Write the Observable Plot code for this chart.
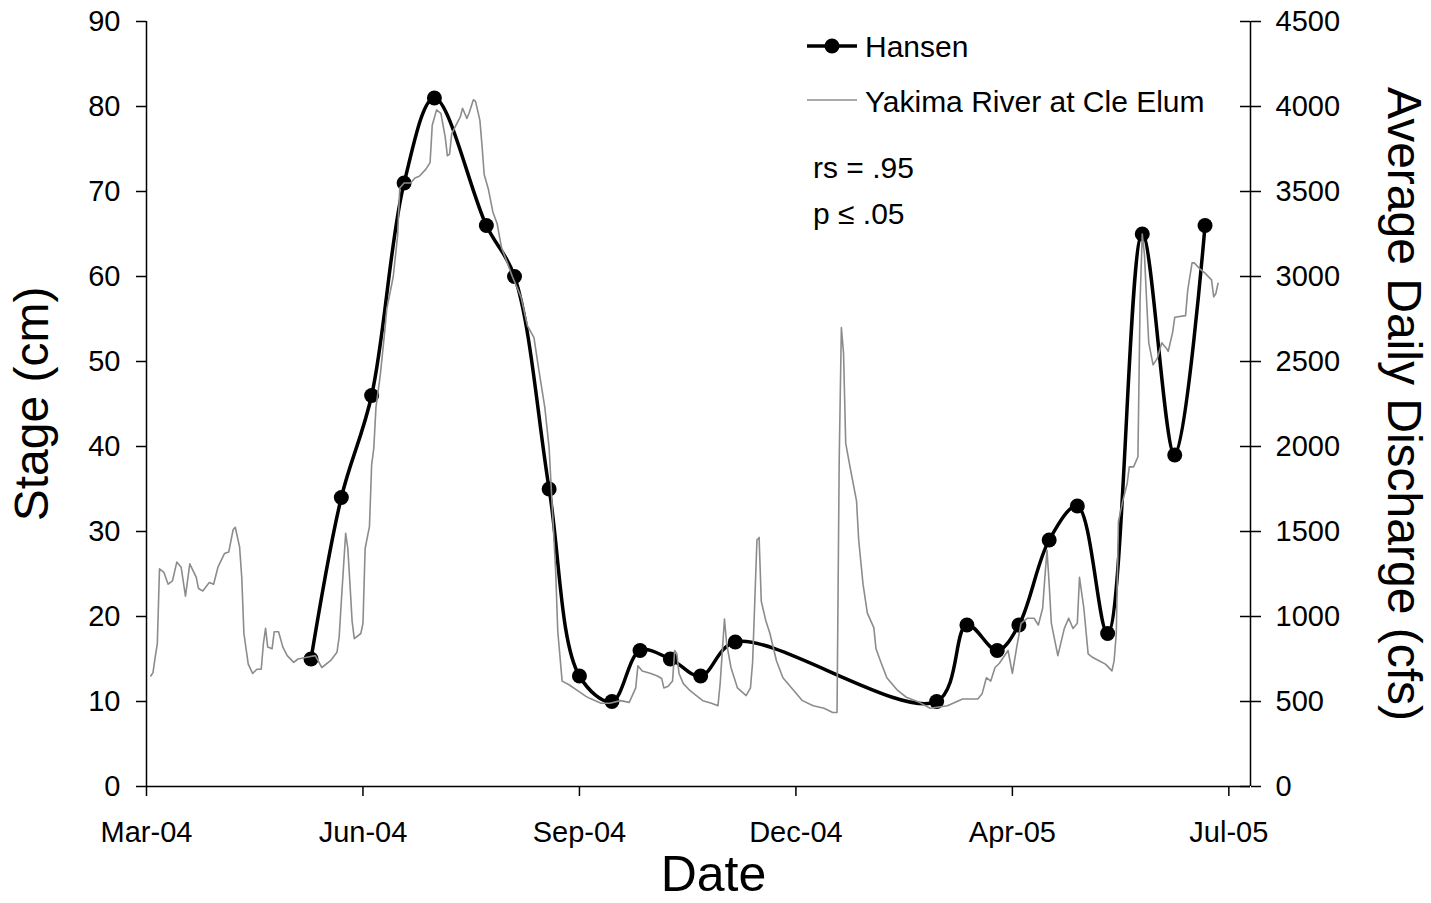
<!DOCTYPE html>
<html><head><meta charset="utf-8">
<script src="https://cdn.jsdelivr.net/npm/d3@7"></script>
<script src="https://cdn.jsdelivr.net/npm/@observablehq/plot@0.6"></script>
<style>
html,body{margin:0;padding:0;background:#fff;}
#chart{position:relative;width:1431px;height:903px;}
</style></head><body><div id="chart"></div>
<script>
// ---- Hansen stage (cm), left axis ----
const hansenDates = ["2004-05-16","2004-05-30","2004-06-13","2004-06-28","2004-07-12","2004-08-05","2004-08-18","2004-09-03","2004-09-17","2004-10-02","2004-10-15","2004-10-29","2004-11-12","2004-11-28","2005-03-01","2005-03-15","2005-03-29","2005-04-08","2005-04-22","2005-05-05","2005-05-19","2005-06-04","2005-06-19","2005-07-03"];
const hansenStage = [15,34,46,71,81,66,60,35,13,10,16,15,13,17,10,19,16,19,29,33,18,65,39,66];

// ---- Yakima River at Cle Elum, average daily discharge (cfs), right axis ----
const dischargeDates = [
"2004-03-03","2004-03-04","2004-03-05","2004-03-06","2004-03-07","2004-03-09","2004-03-11","2004-03-13","2004-03-15","2004-03-17","2004-03-19","2004-03-21","2004-03-24","2004-03-25","2004-03-27","2004-03-30",
"2004-04-01","2004-04-03","2004-04-06","2004-04-08","2004-04-10","2004-04-11","2004-04-13","2004-04-14","2004-04-15","2004-04-17","2004-04-19","2004-04-21","2004-04-23","2004-04-24","2004-04-25","2004-04-26","2004-04-28","2004-04-29",
"2004-05-01","2004-05-03","2004-05-05","2004-05-08","2004-05-10","2004-05-14","2004-05-18","2004-05-21","2004-05-25","2004-05-28","2004-05-29","2004-05-30",
"2004-06-01","2004-06-02","2004-06-03","2004-06-04","2004-06-05","2004-06-08","2004-06-09","2004-06-10","2004-06-12","2004-06-13","2004-06-14","2004-06-15","2004-06-17","2004-06-19","2004-06-20","2004-06-23","2004-06-25","2004-06-26","2004-06-28",
"2004-07-01","2004-07-03","2004-07-05","2004-07-08","2004-07-10","2004-07-11","2004-07-13","2004-07-15","2004-07-17","2004-07-18","2004-07-19","2004-07-20","2004-07-22","2004-07-24","2004-07-25","2004-07-27","2004-07-28","2004-07-30","2004-07-31",
"2004-08-02","2004-08-03","2004-08-04","2004-08-06","2004-08-08","2004-08-10","2004-08-12","2004-08-15","2004-08-17","2004-08-21","2004-08-24","2004-08-27","2004-08-29",
"2004-09-01","2004-09-03","2004-09-04","2004-09-06","2004-09-07","2004-09-09","2004-09-12","2004-09-16","2004-09-20","2004-09-22","2004-09-27",
"2004-10-01","2004-10-06","2004-10-10","2004-10-13","2004-10-14","2004-10-16","2004-10-20","2004-10-23","2004-10-25","2004-10-26","2004-10-28","2004-10-30","2004-10-31",
"2004-11-01","2004-11-02","2004-11-04","2004-11-07","2004-11-10","2004-11-13","2004-11-17","2004-11-20","2004-11-21","2004-11-23","2004-11-24","2004-11-26","2004-11-29",
"2004-12-03","2004-12-05","2004-12-06","2004-12-07","2004-12-08","2004-12-09","2004-12-10","2004-12-12","2004-12-14","2004-12-17","2004-12-20","2004-12-25","2004-12-29",
"2005-01-03","2005-01-08","2005-01-12","2005-01-14","2005-01-15","2005-01-16","2005-01-17","2005-01-18","2005-01-20","2005-01-23","2005-01-24","2005-01-26","2005-01-28","2005-01-31",
"2005-02-01","2005-02-03","2005-02-06","2005-02-11","2005-02-15","2005-02-21","2005-02-26",
"2005-03-06","2005-03-13","2005-03-20","2005-03-22","2005-03-24","2005-03-26","2005-03-28","2005-03-30",
"2005-04-03","2005-04-05","2005-04-07","2005-04-09","2005-04-12","2005-04-15","2005-04-17","2005-04-19","2005-04-20","2005-04-21","2005-04-22","2005-04-23","2005-04-26","2005-04-29",
"2005-05-01","2005-05-03","2005-05-05","2005-05-06","2005-05-08","2005-05-10","2005-05-12","2005-05-15","2005-05-18","2005-05-21","2005-05-22","2005-05-23","2005-05-24","2005-05-26","2005-05-28","2005-05-29","2005-05-31",
"2005-06-02","2005-06-03","2005-06-04","2005-06-05","2005-06-06","2005-06-07","2005-06-09","2005-06-11","2005-06-13","2005-06-15","2005-06-16","2005-06-18","2005-06-19","2005-06-24","2005-06-25","2005-06-27","2005-06-28",
"2005-07-01","2005-07-03","2005-07-06","2005-07-07","2005-07-08","2005-07-09"];
const dischargeCfs = [
650,670,760,840,1280,1260,1190,1210,1320,1290,1120,1310,1230,1165,1150,1200,
1190,1290,1370,1380,1510,1525,1410,1230,900,720,665,690,690,840,930,820,810,910,
910,820,770,730,750,760,770,700,740,790,880,1090,
1490,1400,1190,970,870,900,960,1400,1530,1890,1990,2230,2420,2670,2810,3000,3240,3520,3550,
3550,3580,3590,3630,3670,3890,3980,3960,3820,3710,3720,3840,3890,3940,3990,3930,3960,4040,4030,
3920,3770,3600,3510,3380,3310,3170,3070,3000,2880,2710,2640,2470,
2230,1990,1750,1270,910,620,600,565,530,517,490,
490,505,495,580,710,680,665,650,635,580,590,620,800,
780,665,605,565,535,505,490,475,605,985,840,700,580,
535,580,730,1090,1450,1465,1090,980,900,740,640,565,505,
475,460,435,435,1920,2700,2550,2020,1880,1680,1450,1190,1020,935,
810,740,640,565,525,495,460,
475,515,515,545,640,620,700,725,
800,665,820,960,990,990,950,1050,1230,1390,1190,960,770,930,
990,930,960,1230,1050,780,760,740,720,680,740,900,1560,1680,1780,1880,1880,
1940,2860,3250,3130,2860,2610,2480,2520,2610,2580,2560,2670,2760,2770,2920,3080,3080,
3040,3020,2980,2880,2900,2960];

// ---- axes ----
const stageTicks = [0,10,20,30,40,50,60,70,80,90];
const dischargeTicks = [0,500,1000,1500,2000,2500,3000,3500,4000,4500];
const dateTicks = ["2004-03-01","2004-06-09","2004-09-17","2004-12-26","2005-04-05","2005-07-14"];
const xDomain = ["2004-03-01","2005-07-24"];
const cfsPerCm = 50; // 4500 cfs on the right axis = 90 cm on the left axis

const parse = d3.utcParse("%Y-%m-%d");
const hansen = hansenDates.map((d, i) => ({date: parse(d), stage: hansenStage[i]}));
const discharge = dischargeDates.map((d, i) => ({date: parse(d), cfs: dischargeCfs[i]}));

const W = 1431, H = 903, mL = 146, mR = 181, mT = 21, mB = 117;
const font = "'Liberation Sans', Arial, Helvetica, sans-serif";

const plot = Plot.plot({
  width: W, height: H,
  marginLeft: mL, marginRight: mR, marginTop: mT, marginBottom: mB,
  style: {fontFamily: font, background: "#fff", color: "#000", overflow: "visible"},
  x: {type: "utc", domain: xDomain.map(parse), axis: null},
  y: {domain: [0, 90], axis: null},
  marks: [
    Plot.line(hansen, {x: "date", y: "stage", curve: "catmull-rom", stroke: "#000", strokeWidth: 3.5}),
    Plot.dot(hansen, {x: "date", y: "stage", r: 7.5, fill: "#000", stroke: "none"}),
    Plot.line(discharge, {x: "date", y: d => d.cfs / cfsPerCm, stroke: "#8c8c8c", strokeWidth: 1.6}),
    Plot.ruleX([parse(xDomain[0])], {stroke: "#000", strokeWidth: 1.5}),
    Plot.ruleX([parse(xDomain[1])], {stroke: "#000", strokeWidth: 1.5}),
    Plot.ruleY([0], {stroke: "#000", strokeWidth: 1.5}),
    Plot.axisX(dateTicks.map(parse), {anchor: "bottom", label: null, tickSize: 10, tickPadding: 25,
      tickFormat: d3.utcFormat("%b-%y"), fontSize: 29, strokeWidth: 1.5}),
    Plot.axisY(stageTicks, {anchor: "left", label: null, tickSize: 10, tickPadding: 16, fontSize: 29, strokeWidth: 1.5}),
    Plot.axisY(dischargeTicks.map(v => v / cfsPerCm), {anchor: "right", label: null, tickSize: 10, tickPadding: 15,
      tickFormat: v => String(Math.round(v * cfsPerCm)), fontSize: 29, strokeWidth: 1.5}),
    Plot.tickY(dischargeTicks.map(v => v / cfsPerCm), {y: d => d, insetLeft: W - mL - mR - 10, stroke: "#000", strokeWidth: 1.5}),
    Plot.text(["Stage (cm)"], {text: d => d, frameAnchor: "left", textAnchor: "middle", lineAnchor: "middle", rotate: -90, dx: -114, fontSize: 48}),
    Plot.text(["Average Daily Discharge (cfs)"], {text: d => d, frameAnchor: "right", textAnchor: "middle", lineAnchor: "middle", rotate: 90, dx: 153, fontSize: 48}),
    Plot.text(["Date"], {text: d => d, frameAnchor: "bottom", textAnchor: "middle", lineAnchor: "middle", dy: 88, dx: 15, fontSize: 50})
  ]
});
document.getElementById("chart").appendChild(plot);

// ---- in-plot legend and statistics ----
const svg = d3.select(plot);
const g = svg.append("g").attr("font-family", font).attr("font-size", 30).attr("fill", "#000").attr("text-anchor", "start");
g.append("line").attr("x1", 807).attr("x2", 857).attr("y1", 46).attr("y2", 46).attr("stroke", "#000").attr("stroke-width", 3.5);
g.append("circle").attr("cx", 832).attr("cy", 46).attr("r", 7.5).attr("fill", "#000");
g.append("text").attr("x", 865).attr("y", 57).text("Hansen");
g.append("line").attr("x1", 807).attr("x2", 857).attr("y1", 100).attr("y2", 100).attr("stroke", "#8c8c8c").attr("stroke-width", 1.6);
g.append("text").attr("x", 865).attr("y", 112).text("Yakima River at Cle Elum");
g.append("text").attr("x", 813).attr("y", 178).text("rs = .95");
g.append("text").attr("x", 813).attr("y", 224).text("p \u2264 .05");
</script></body></html>
